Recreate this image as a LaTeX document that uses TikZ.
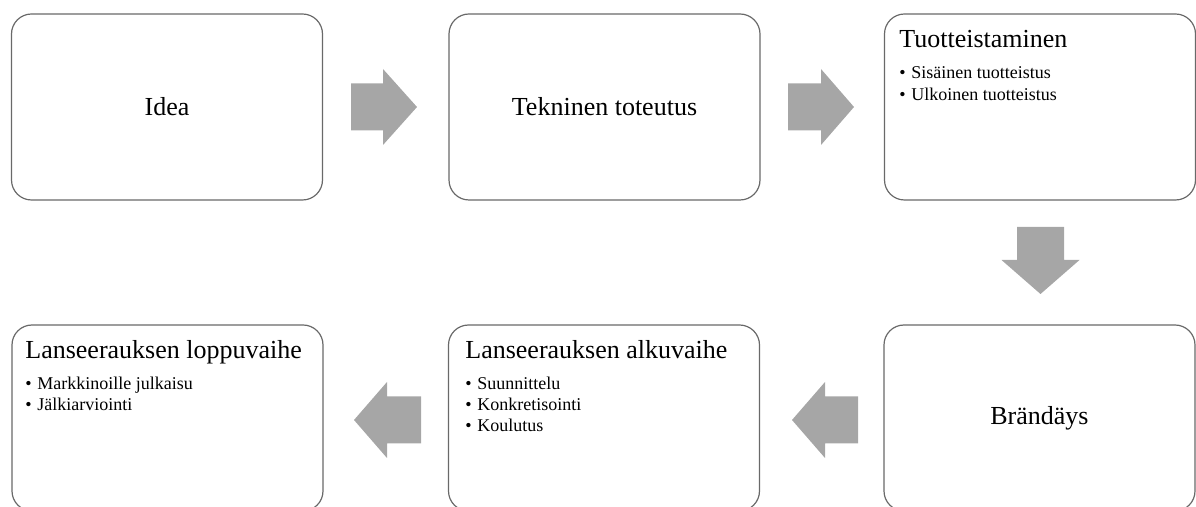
\documentclass[tikz,border=0pt]{standalone}
\usepackage{fontspec}
\setmainfont{Liberation Serif}
\definecolor{boxline}{RGB}{105,105,105}
\definecolor{arrowgray}{RGB}{166,166,166}
\newcommand\bulmark{\makebox[6pt][l]{\textbullet}}
\begin{document}
\begin{tikzpicture}[x=0.5pt,y=-0.5pt,
  stage/.style={draw=boxline, line width=0.6pt, rounded corners=10pt,
    minimum width=155.5pt, minimum height=93pt, inner sep=0pt,
    font=\fontsize{13}{15}\selectfont},
  headtext/.style={anchor=base west, inner sep=0pt, font=\fontsize{13}{15}\selectfont},
  bulletitem/.style={anchor=base west, inner sep=0pt, font=\fontsize{9}{11}\selectfont},
  blockarrow/.style={fill=arrowgray, draw=none}]
\useasboundingbox (0,0) rectangle (1196,507);
\clip (0,0) rectangle (1196,507);

% boxes
\node[stage] (idea)  at (167,107)    {Idea};
\node[stage] (tekn)  at (604.5,107)  {Tekninen toteutus};
\node[stage] (tuot)  at (1040,107)   {};
\node[stage] (brand) at (1039.5,418) {Brändäys};
\node[stage] (alku)  at (604,418)    {};
\node[stage] (loppu) at (167.5,418)  {};

% texts in boxes
\node[headtext]   (tuoth) at (899,48)  {Tuotteistaminen};
\node[bulletitem] (tuota) at (899,79)  {\bulmark Sisäinen tuotteistus};
\node[bulletitem] (tuotb) at (899,101) {\bulmark Ulkoinen tuotteistus};

\node[headtext]   (alkuh) at (465,359) {Lanseerauksen alkuvaihe};
\node[bulletitem] (alkua) at (465,390) {\bulmark Suunnittelu};
\node[bulletitem] (alkub) at (465,411) {\bulmark Konkretisointi};
\node[bulletitem] (alkuc) at (465,432) {\bulmark Koulutus};

\node[headtext]   (loppuh) at (25,359) {Lanseerauksen loppuvaihe};
\node[bulletitem] (loppua) at (25,390) {\bulmark Markkinoille julkaisu};
\node[bulletitem] (loppub) at (25,411) {\bulmark Jälkiarviointi};

% block arrows
\fill[blockarrow] (351,83.5)--(383,83.5)--(383,69)--(417,107)--(383,145)--(383,130.5)--(351,130.5)--cycle;
\fill[blockarrow] (788,83.5)--(821,83.5)--(821,69)--(854,107)--(821,145)--(821,130.5)--(788,130.5)--cycle;
\fill[blockarrow] (1017,227)--(1064,227)--(1064,260)--(1079.5,260)--(1040.5,294)--(1001.5,260)--(1017,260)--cycle;
\fill[blockarrow] (858,396.5)--(825,396.5)--(825,382)--(792,420)--(825,458)--(825,443.5)--(858,443.5)--cycle;
\fill[blockarrow] (421,396.5)--(387,396.5)--(387,382)--(354,420)--(387,458)--(387,443.5)--(421,443.5)--cycle;
\end{tikzpicture}
\end{document}
